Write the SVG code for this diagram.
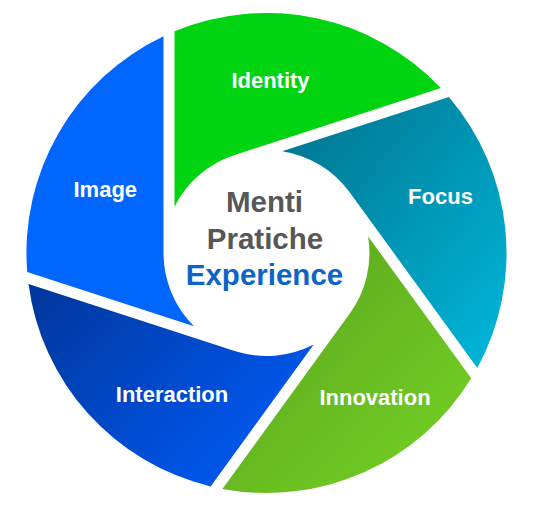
<svg xmlns="http://www.w3.org/2000/svg" width="535" height="515" viewBox="0 0 535 515">
  <style>
    .lbl { font-family: "Liberation Sans", Arial, sans-serif; font-weight: bold; font-size: 22px; fill: #ffffff; text-anchor: middle; }
    .ctr { font-family: "Liberation Sans", Arial, sans-serif; font-weight: bold; font-size: 29.5px; text-anchor: middle; }
    .gray { fill: #575757; }
    .blue { fill: #0b64c6; }
  </style>
  <defs>
    <linearGradient id="gFocus" x1="0" y1="0" x2="1" y2="1">
      <stop offset="0" stop-color="#00728c"/>
      <stop offset="1" stop-color="#00b8dc"/>
    </linearGradient>
    <linearGradient id="gInnov" x1="0" y1="0" x2="1" y2="1">
      <stop offset="0" stop-color="#58a01e"/>
      <stop offset="1" stop-color="#76d424"/>
    </linearGradient>
    <linearGradient id="gInter" x1="0" y1="0" x2="1" y2="0.7">
      <stop offset="0" stop-color="#00369a"/>
      <stop offset="1" stop-color="#005af5"/>
    </linearGradient>
  </defs>
  <rect width="535" height="515" fill="#ffffff"/>
  <g id="identity">
    <path d="M174.5,206.7 L174.5,31.3 A240,240 0 0 1 440.9,88.0 L234.7,155.0 A103,103 0 0 0 174.5,206.7 Z" fill="#00d30f"/>
    <text class="lbl" x="270.5" y="88">Identity</text>
  </g>
  <g id="focus">
    <path d="M282.1,151.2 L448.9,97.0 A240,240 0 0 1 477.3,367.9 L349.8,192.5 A103,103 0 0 0 282.1,151.2 Z" fill="url(#gFocus)"/>
    <text class="lbl" x="440.5" y="204">Focus</text>
  </g>
  <g id="innovation">
    <path d="M368.1,236.4 L471.2,378.3 A240,240 0 0 1 222.4,488.9 L349.8,313.5 A103,103 0 0 0 368.1,236.4 Z" fill="url(#gInnov)"/>
    <text class="lbl" x="375" y="405">Innovation</text>
  </g>
  <g id="interaction">
    <path d="M313.7,344.5 L210.6,486.4 A240,240 0 0 1 28.5,284.0 L234.7,351.0 A103,103 0 0 0 313.7,344.5 Z" fill="url(#gInter)"/>
    <text class="lbl" x="172" y="401.5">Interaction</text>
  </g>
  <g id="image">
    <path d="M194.0,326.2 L27.2,272.0 A240,240 0 0 1 163.5,36.2 L163.5,253.0 A103,103 0 0 0 194.0,326.2 Z" fill="#0066fd"/>
    <text class="lbl" x="105.3" y="196.7">Image</text>
  </g>
  <g id="center">
    <text class="ctr gray" x="264.5" y="212">Menti</text>
    <text class="ctr gray" x="265" y="249">Pratiche</text>
    <text class="ctr blue" x="264.5" y="285">Experience</text>
  </g>
  <g id="connectors"/>
</svg>
